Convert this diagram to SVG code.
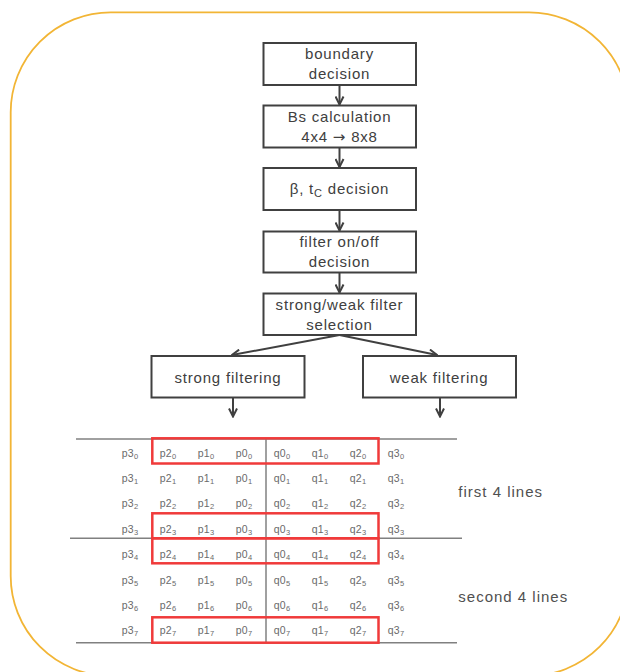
<svg xmlns="http://www.w3.org/2000/svg" width="620" height="672" viewBox="0 0 620 672">
<style>
.box{fill:#fff;stroke:#404040;stroke-width:2}
.bt{font-family:"Liberation Sans",Arial,sans-serif;font-size:15px;letter-spacing:0.8px;fill:#404040;text-anchor:middle}
.ar{stroke:#404040;stroke-width:2;fill:none}
.gl{stroke:#808080;stroke-width:1.5;fill:none}
.rb{stroke:#F03A3A;stroke-width:2.5;fill:none}
.gt{font-family:"Liberation Sans",Arial,sans-serif;font-size:10.5px;letter-spacing:0.3px;fill:#6a6a6a}
.sb{font-size:7.5px}
.lb{font-family:"Liberation Sans",Arial,sans-serif;font-size:15px;letter-spacing:1px;fill:#505050}
</style>
<defs>
<marker id="ah" viewBox="0 0 10 10" refX="9" refY="5" markerWidth="10" markerHeight="10" markerUnits="userSpaceOnUse" orient="auto">
<path d="M1,1 L9,5 L1,9" fill="none" stroke="#404040" stroke-width="2"/>
</marker>
</defs>
<rect x="10.7" y="12.3" width="618.3" height="663.7" rx="100" ry="100" fill="none" stroke="#F2B535" stroke-width="1.8"/>

<g id="connectors">
<line class="ar" x1="339.5" y1="85" x2="339.5" y2="104.5" marker-end="url(#ah)"/>
<line class="ar" x1="339.5" y1="147.5" x2="339.5" y2="167" marker-end="url(#ah)"/>
<line class="ar" x1="339.5" y1="210" x2="339.5" y2="230.5" marker-end="url(#ah)"/>
<line class="ar" x1="339.5" y1="272.5" x2="339.5" y2="292.5" marker-end="url(#ah)"/>
<line class="ar" x1="339.5" y1="335" x2="232" y2="355" marker-end="url(#ah)"/>
<line class="ar" x1="339.5" y1="335" x2="437" y2="355" marker-end="url(#ah)"/>
<line class="ar" x1="233" y1="397.5" x2="233" y2="416.5" marker-end="url(#ah)"/>
<line class="ar" x1="440" y1="397.5" x2="440" y2="416.5" marker-end="url(#ah)"/>
</g>

<g id="boundary">
<rect class="box" x="263.5" y="43" width="152.5" height="42"/>
<text class="bt" x="339.5" y="58.5">boundary</text>
<text class="bt" x="339.5" y="79">decision</text>
</g>
<g id="bs">
<rect class="box" x="263.5" y="105.5" width="152.5" height="42"/>
<text class="bt" x="339.5" y="122">Bs calculation</text>
<text class="bt" x="339.5" y="142">4x4 <tspan font-family="DejaVu Sans, sans-serif" font-size="15">→</tspan> 8x8</text>
</g>
<g id="beta">
<rect class="box" x="263.5" y="168" width="152.5" height="42"/>
<text class="bt" x="339.5" y="194">β, t<tspan font-size="11" dy="3">C</tspan><tspan dy="-3"> decision</tspan></text>
</g>
<g id="onoff">
<rect class="box" x="263.5" y="231.5" width="152.5" height="41"/>
<text class="bt" x="339.5" y="247">filter on/off</text>
<text class="bt" x="339.5" y="267">decision</text>
</g>
<g id="select">
<rect class="box" x="263.5" y="293.5" width="152.5" height="41.5"/>
<text class="bt" x="339.5" y="310">strong/weak filter</text>
<text class="bt" x="339.5" y="329.5">selection</text>
</g>
<g id="strong">
<rect class="box" x="151.5" y="356" width="153" height="41.5"/>
<text class="bt" x="228" y="382.5">strong filtering</text>
</g>
<g id="weak">
<rect class="box" x="363" y="356" width="153" height="41.5"/>
<text class="bt" x="439" y="382.5">weak filtering</text>
</g>

<g id="grid">
<line class="gl" x1="76" y1="439" x2="457" y2="439"/>
<line class="gl" x1="70" y1="538.3" x2="462" y2="538.3"/>
<line class="gl" x1="76" y1="642.8" x2="457" y2="642.8"/>
<line class="gl" x1="266" y1="439" x2="266" y2="642.8"/>
<rect class="rb" x="152.3" y="438.3" width="226.2" height="25.2"/>
<rect class="rb" x="152.3" y="513.3" width="226.2" height="25"/>
<rect class="rb" x="152.3" y="538.3" width="226.2" height="25"/>
<rect class="rb" x="152.3" y="617.3" width="226.2" height="25.4"/>

<text class="gt" x="121.7" y="457">p3<tspan class="sb" dy="2">0</tspan></text>
<text class="gt" x="159.7" y="457">p2<tspan class="sb" dy="2">0</tspan></text>
<text class="gt" x="197.7" y="457">p1<tspan class="sb" dy="2">0</tspan></text>
<text class="gt" x="235.7" y="457">p0<tspan class="sb" dy="2">0</tspan></text>
<text class="gt" x="273.7" y="457">q0<tspan class="sb" dy="2">0</tspan></text>
<text class="gt" x="311.7" y="457">q1<tspan class="sb" dy="2">0</tspan></text>
<text class="gt" x="349.7" y="457">q2<tspan class="sb" dy="2">0</tspan></text>
<text class="gt" x="387.7" y="457">q3<tspan class="sb" dy="2">0</tspan></text>

<text class="gt" x="121.7" y="482.2">p3<tspan class="sb" dy="2">1</tspan></text>
<text class="gt" x="159.7" y="482.2">p2<tspan class="sb" dy="2">1</tspan></text>
<text class="gt" x="197.7" y="482.2">p1<tspan class="sb" dy="2">1</tspan></text>
<text class="gt" x="235.7" y="482.2">p0<tspan class="sb" dy="2">1</tspan></text>
<text class="gt" x="273.7" y="482.2">q0<tspan class="sb" dy="2">1</tspan></text>
<text class="gt" x="311.7" y="482.2">q1<tspan class="sb" dy="2">1</tspan></text>
<text class="gt" x="349.7" y="482.2">q2<tspan class="sb" dy="2">1</tspan></text>
<text class="gt" x="387.7" y="482.2">q3<tspan class="sb" dy="2">1</tspan></text>

<text class="gt" x="121.7" y="507.4">p3<tspan class="sb" dy="2">2</tspan></text>
<text class="gt" x="159.7" y="507.4">p2<tspan class="sb" dy="2">2</tspan></text>
<text class="gt" x="197.7" y="507.4">p1<tspan class="sb" dy="2">2</tspan></text>
<text class="gt" x="235.7" y="507.4">p0<tspan class="sb" dy="2">2</tspan></text>
<text class="gt" x="273.7" y="507.4">q0<tspan class="sb" dy="2">2</tspan></text>
<text class="gt" x="311.7" y="507.4">q1<tspan class="sb" dy="2">2</tspan></text>
<text class="gt" x="349.7" y="507.4">q2<tspan class="sb" dy="2">2</tspan></text>
<text class="gt" x="387.7" y="507.4">q3<tspan class="sb" dy="2">2</tspan></text>

<text class="gt" x="121.7" y="532.6">p3<tspan class="sb" dy="2">3</tspan></text>
<text class="gt" x="159.7" y="532.6">p2<tspan class="sb" dy="2">3</tspan></text>
<text class="gt" x="197.7" y="532.6">p1<tspan class="sb" dy="2">3</tspan></text>
<text class="gt" x="235.7" y="532.6">p0<tspan class="sb" dy="2">3</tspan></text>
<text class="gt" x="273.7" y="532.6">q0<tspan class="sb" dy="2">3</tspan></text>
<text class="gt" x="311.7" y="532.6">q1<tspan class="sb" dy="2">3</tspan></text>
<text class="gt" x="349.7" y="532.6">q2<tspan class="sb" dy="2">3</tspan></text>
<text class="gt" x="387.7" y="532.6">q3<tspan class="sb" dy="2">3</tspan></text>

<text class="gt" x="121.7" y="557.8">p3<tspan class="sb" dy="2">4</tspan></text>
<text class="gt" x="159.7" y="557.8">p2<tspan class="sb" dy="2">4</tspan></text>
<text class="gt" x="197.7" y="557.8">p1<tspan class="sb" dy="2">4</tspan></text>
<text class="gt" x="235.7" y="557.8">p0<tspan class="sb" dy="2">4</tspan></text>
<text class="gt" x="273.7" y="557.8">q0<tspan class="sb" dy="2">4</tspan></text>
<text class="gt" x="311.7" y="557.8">q1<tspan class="sb" dy="2">4</tspan></text>
<text class="gt" x="349.7" y="557.8">q2<tspan class="sb" dy="2">4</tspan></text>
<text class="gt" x="387.7" y="557.8">q3<tspan class="sb" dy="2">4</tspan></text>

<text class="gt" x="121.7" y="583.6">p3<tspan class="sb" dy="2">5</tspan></text>
<text class="gt" x="159.7" y="583.6">p2<tspan class="sb" dy="2">5</tspan></text>
<text class="gt" x="197.7" y="583.6">p1<tspan class="sb" dy="2">5</tspan></text>
<text class="gt" x="235.7" y="583.6">p0<tspan class="sb" dy="2">5</tspan></text>
<text class="gt" x="273.7" y="583.6">q0<tspan class="sb" dy="2">5</tspan></text>
<text class="gt" x="311.7" y="583.6">q1<tspan class="sb" dy="2">5</tspan></text>
<text class="gt" x="349.7" y="583.6">q2<tspan class="sb" dy="2">5</tspan></text>
<text class="gt" x="387.7" y="583.6">q3<tspan class="sb" dy="2">5</tspan></text>

<text class="gt" x="121.7" y="609.4">p3<tspan class="sb" dy="2">6</tspan></text>
<text class="gt" x="159.7" y="609.4">p2<tspan class="sb" dy="2">6</tspan></text>
<text class="gt" x="197.7" y="609.4">p1<tspan class="sb" dy="2">6</tspan></text>
<text class="gt" x="235.7" y="609.4">p0<tspan class="sb" dy="2">6</tspan></text>
<text class="gt" x="273.7" y="609.4">q0<tspan class="sb" dy="2">6</tspan></text>
<text class="gt" x="311.7" y="609.4">q1<tspan class="sb" dy="2">6</tspan></text>
<text class="gt" x="349.7" y="609.4">q2<tspan class="sb" dy="2">6</tspan></text>
<text class="gt" x="387.7" y="609.4">q3<tspan class="sb" dy="2">6</tspan></text>

<text class="gt" x="121.7" y="634">p3<tspan class="sb" dy="2">7</tspan></text>
<text class="gt" x="159.7" y="634">p2<tspan class="sb" dy="2">7</tspan></text>
<text class="gt" x="197.7" y="634">p1<tspan class="sb" dy="2">7</tspan></text>
<text class="gt" x="235.7" y="634">p0<tspan class="sb" dy="2">7</tspan></text>
<text class="gt" x="273.7" y="634">q0<tspan class="sb" dy="2">7</tspan></text>
<text class="gt" x="311.7" y="634">q1<tspan class="sb" dy="2">7</tspan></text>
<text class="gt" x="349.7" y="634">q2<tspan class="sb" dy="2">7</tspan></text>
<text class="gt" x="387.7" y="634">q3<tspan class="sb" dy="2">7</tspan></text>
</g>

<text class="lb" x="458.3" y="497.3">first 4 lines</text>
<text class="lb" x="458.3" y="601.5">second 4 lines</text>
</svg>
